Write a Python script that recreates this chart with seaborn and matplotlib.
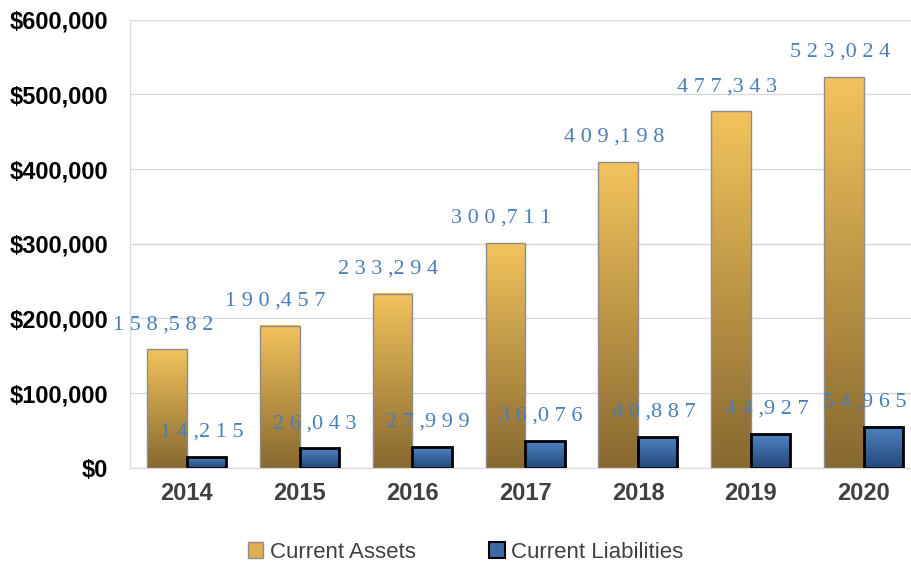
import numpy as np
import pandas as pd
import seaborn as sns
import matplotlib.pyplot as plt
from matplotlib.colors import LinearSegmentedColormap
from matplotlib.patches import Patch
from matplotlib.ticker import FuncFormatter, FixedLocator

years = ["2014", "2015", "2016", "2017", "2018", "2019", "2020"]
assets = [158582, 190457, 233294, 300711, 409198, 477343, 523024]
liabilities = [14215, 26043, 27999, 36076, 40887, 44927, 54965]
series = ["Current Assets", "Current Liabilities"]

df = pd.DataFrame({
    "year": years * 2,
    "value": assets + liabilities,
    "series": [series[0]] * len(years) + [series[1]] * len(years),
})

sns.set_style("white")
plt.rcParams["font.family"] = ["Liberation Sans", "DejaVu Sans"]

fig = plt.figure(figsize=(9.11, 5.65), dpi=100)
ax = fig.add_axes([0.143, 0.172, 0.857, 0.793])

sns.barplot(data=df, x="year", y="value", hue="series", width=0.7,
            palette=["#d4a84a", "#3c6aa8"], legend=False, ax=ax, errorbar=None)

# gradient fills: light at top, dark at bottom
grads = [
    (LinearSegmentedColormap.from_list("gold", ["#876830", "#f2c35c"]), "#8c8c8c", 1.0),
    (LinearSegmentedColormap.from_list("blue", ["#24487a", "#4f83c2"]), "black", 2.0),
]
grad = np.linspace(0, 1, 256).reshape(-1, 1)
for cont, (cmap, ec, lw) in zip(ax.containers, grads):
    for bar in cont:
        x, y = bar.get_x(), bar.get_y()
        w, h = bar.get_width(), bar.get_height()
        ax.imshow(grad, cmap=cmap, origin="lower", aspect="auto",
                  extent=[x, x + w, y, y + h], zorder=1.5)
        bar.set_facecolor("none")
        bar.set_edgecolor(ec)
        bar.set_linewidth(lw)
        bar.set_zorder(2)

ax.set_xlim(-0.5, 6.42)
ax.set_ylim(0, 600000)

# data labels
labels = []
for cont, vals in zip(ax.containers, [assets, liabilities]):
    for bar, v in zip(cont, vals):
        txt = " ".join(f"{v:,}").replace(" , ", " ,")
        t = ax.annotate(txt, (bar.get_x() + bar.get_width() / 2, bar.get_height()),
                        xytext=(-3, 11), textcoords="offset points",
                        ha="center", va="bottom", fontsize=16,
                        family=["Liberation Serif", "DejaVu Serif"], color="#4a7ebb")
        labels.append(t)

ax.set_yticks(range(0, 600001, 100000))
ax.yaxis.set_major_formatter(FuncFormatter(lambda v, p: f"${v:,.0f}"))
ax.grid(axis="y", color="#d9d9d9", linewidth=1)
ax.set_axisbelow(True)

for s in ["top", "right"]:
    ax.spines[s].set_visible(False)
ax.spines["left"].set_color("#d9d9d9")
ax.spines["bottom"].set_color("#d9d9d9")

ax.tick_params(axis="y", which="major", length=4.5, color="#d9d9d9", width=1,
               labelsize=17, pad=11.5, labelcolor="black")
ax.tick_params(axis="x", which="major", length=0, labelsize=17, pad=10,
               labelcolor="#404040")
ax.xaxis.set_minor_locator(FixedLocator(np.arange(-0.5, 6.6, 1)))
ax.tick_params(axis="x", which="minor", length=7, color="#d9d9d9", width=1)
for lab in ax.get_yticklabels() + ax.get_xticklabels():
    lab.set_fontweight("bold")

ax.set_xlabel("")
ax.set_ylabel("")

handles = [
    Patch(facecolor="#ddb14f", edgecolor="#8c8c8c", linewidth=1, label=series[0]),
    Patch(facecolor="#3c6aa8", edgecolor="black", linewidth=1.5, label=series[1]),
]
fig.legend(handles=handles, loc="center", bbox_to_anchor=(0.511, 0.023), ncol=2,
           frameon=False, fontsize=16, handlelength=0.7, handleheight=0.7,
           handletextpad=0.3, columnspacing=3.3, labelcolor="#404040")

# keep labels inside the figure
fig.canvas.draw()
r = fig.canvas.get_renderer()
for t in labels:
    bb = t.get_window_extent(r)
    over = bb.x1 - (fig.bbox.width - 4)
    if over > 0:
        ox, oy = t.xyann
        t.xyann = (ox - over * 72 / fig.dpi, oy)

fig.savefig("out.png", dpi=100)
